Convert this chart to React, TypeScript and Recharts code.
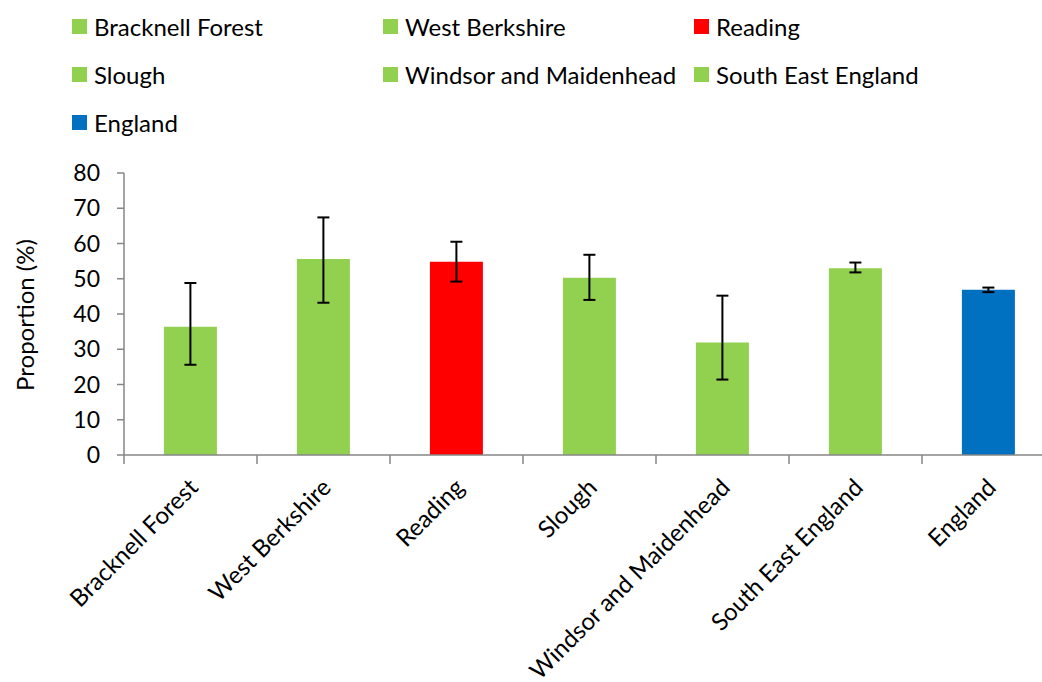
import { BarChart, Bar, XAxis, YAxis, Cell, ErrorBar } from "recharts";

const areas = [
  "Bracknell Forest",
  "West Berkshire",
  "Reading",
  "Slough",
  "Windsor and Maidenhead",
  "South East England",
  "England",
];
const proportions = [36.4, 55.6, 54.8, 50.3, 31.9, 53.0, 46.9];
const lowerCI = [25.6, 43.2, 49.2, 44.0, 21.4, 51.8, 46.2];
const upperCI = [48.8, 67.4, 60.5, 56.8, 45.2, 54.6, 47.5];
const barColors = ["#92D050", "#92D050", "#FF0000", "#92D050", "#92D050", "#92D050", "#0070C0"];
const yTicks = [0, 10, 20, 30, 40, 50, 60, 70, 80];

const FONT = "Lato, 'Open Sans', sans-serif";
const FS = 23;
const LABEL_FS = 24;
const AXIS = "#868686";

const data = areas.map((area, i) => ({
  area,
  value: proportions[i],
  err: [proportions[i] - lowerCI[i], upperCI[i] - proportions[i]],
}));

// category label plus tick marks on the category boundaries (Excel style)
const AreaTick = (props: any) => {
  const { x, y, payload, width, visibleTicksCount, index } = props;
  const half = width / visibleTicksCount / 2;
  const ax = x + 9;
  const ay = y + 34;
  return (
    <g>
      <line x1={x - half} y1={y} x2={x - half} y2={y + 9} stroke={AXIS} strokeWidth={1.5} />
      {index === visibleTicksCount - 1 && (
        <line x1={x + half} y1={y} x2={x + half} y2={y + 9} stroke={AXIS} strokeWidth={1.5} />
      )}
      <text
        x={ax}
        y={ay}
        transform={`rotate(-45, ${ax}, ${ay})`}
        textAnchor="end"
        fontSize={LABEL_FS}
        fontFamily={FONT}
        fill="#000"
      >
        {payload.value}
      </text>
    </g>
  );
};

const YLabel = (props: any) => (
  <text
    x={24}
    y={315}
    transform="rotate(-90, 24, 315)"
    textAnchor="middle"
    dominantBaseline="central"
    fontSize={LABEL_FS}
    fontFamily={FONT}
    fill="#000"
  >
    {props.value}
  </text>
);

const LegendBlock = () => (
  <div
    style={{
      position: "absolute",
      left: 72,
      top: 2,
      width: 960,
      display: "grid",
      gridTemplateColumns: "311px 311px 311px",
      fontFamily: FONT,
      fontSize: LABEL_FS,
      color: "#000",
    }}
  >
    {areas.map((area, i) => (
      <div key={area} style={{ display: "flex", alignItems: "center", height: 48 }}>
        <span
          style={{
            display: "inline-block",
            width: 15,
            height: 15,
            background: barColors[i],
            marginRight: 7,
          }}
        />
        <span>{area}</span>
      </div>
    ))}
  </div>
);

export default function App() {
  return (
    <div
      style={{
        position: "absolute",
        left: 0,
        top: 0,
        width: 1042,
        height: 682,
        overflow: "hidden",
        background: "#fff",
      }}
    >
      <LegendBlock />
      <BarChart
        width={1070}
        height={682}
        data={data}
        margin={{ top: 173, right: 15, bottom: 0, left: 0 }}
        barCategoryGap="30%"
      >
        <XAxis
          dataKey="area"
          height={227}
          interval={0}
          tickSize={0}
          tickMargin={0}
          axisLine={{ stroke: AXIS, strokeWidth: 1.5 }}
          tickLine={false}
          tick={<AreaTick />}
        />
        <YAxis
          width={124}
          domain={[0, 80]}
          ticks={yTicks}
          interval={0}
          tickSize={7}
          tickMargin={17}
          axisLine={{ stroke: AXIS, strokeWidth: 1.5 }}
          tickLine={{ stroke: AXIS, strokeWidth: 1.5 }}
          tick={{ fill: "#000", fontSize: FS, fontFamily: FONT }}
          label={{ value: "Proportion (%)", content: <YLabel /> }}
        />
        <Bar dataKey="value" isAnimationActive={false}>
          {data.map((d, i) => (
            <Cell key={d.area} fill={barColors[i]} />
          ))}
          <ErrorBar dataKey="err" width={6} stroke="#000" strokeWidth={2} isAnimationActive={false} />
        </Bar>
      </BarChart>
    </div>
  );
}
